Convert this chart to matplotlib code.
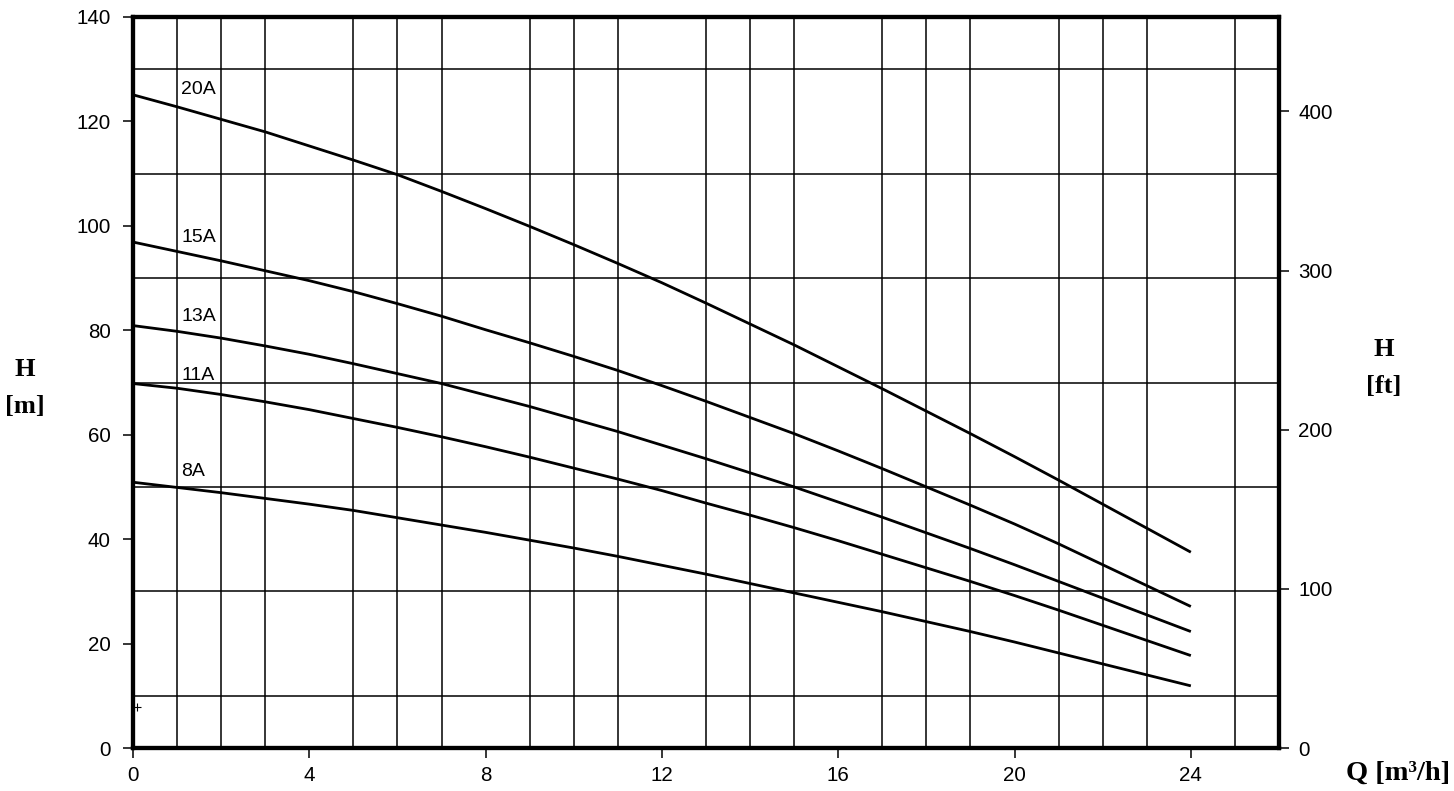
import matplotlib
matplotlib.use("Agg")
import matplotlib.pyplot as plt
import numpy as np

# Flow Q [m3/h]
q = list(range(0, 25))

h_20A = [125.1, 122.8, 120.4, 118.0, 115.3, 112.6, 109.8, 106.6, 103.3, 99.9, 96.4, 92.8, 89.1,
         85.2, 81.2, 77.2, 73.0, 68.8, 64.5, 60.2, 55.8, 51.3, 46.7, 42.1, 37.5]
h_15A = [96.9, 95.1, 93.3, 91.4, 89.5, 87.4, 85.1, 82.7, 80.1, 77.6, 75.0, 72.3, 69.4,
         66.4, 63.3, 60.2, 56.9, 53.5, 50.0, 46.5, 42.9, 39.1, 35.1, 31.1, 27.1]
h_13A = [80.9, 79.8, 78.5, 77.0, 75.4, 73.6, 71.7, 69.8, 67.6, 65.4, 63.0, 60.6, 58.0,
         55.4, 52.7, 50.0, 47.1, 44.2, 41.2, 38.2, 35.1, 31.9, 28.7, 25.5, 22.3]
h_11A = [69.8, 68.9, 67.7, 66.3, 64.8, 63.1, 61.4, 59.6, 57.7, 55.7, 53.6, 51.5, 49.3,
         46.9, 44.6, 42.2, 39.7, 37.1, 34.5, 31.9, 29.2, 26.4, 23.5, 20.6, 17.7]
h_8A = [50.9, 49.9, 48.9, 47.8, 46.7, 45.5, 44.1, 42.7, 41.3, 39.8, 38.3, 36.7, 35.0,
        33.3, 31.5, 29.7, 27.9, 26.1, 24.2, 22.3, 20.3, 18.2, 16.1, 14.0, 11.9]

series_names = ["20A", "15A", "13A", "11A", "8A"]
series_values = [h_20A, h_15A, h_13A, h_11A, h_8A]
label_y = [126.2, 97.7, 82.7, 71.4, 53.0]

x_ticks = [0, 4, 8, 12, 16, 20, 24]
y_ticks = [0, 20, 40, 60, 80, 100, 120, 140]
ft_ticks = [0, 100, 200, 300, 400]

tick_font = "Liberation Sans"
label_font = "Liberation Serif"

fig = plt.figure(figsize=(14.54, 7.91), dpi=100)
ax = fig.add_axes([133 / 1454, 43 / 791, (1279 - 133) / 1454, (748 - 17) / 791])

ax.set_xlim(0, 26)
ax.set_ylim(0, 140)

# grid
ax.set_xticks(np.arange(0, 27, 1), minor=True)
ax.set_yticks(np.arange(0, 141, 10), minor=True)
ax.grid(which="minor", color="black", linewidth=1.1)
ax.tick_params(which="minor", length=0)
ax.set_axisbelow(True)

for name, vals, ly in zip(series_names, series_values, label_y):
    ax.plot(q, vals, color="black", linewidth=2.0, solid_capstyle="butt",
            solid_joinstyle="round", zorder=3)
    ax.text(1.09, ly, name, fontsize=14, family=tick_font, ha="left", va="center", zorder=4)

ax.plot([0.1], [7.9], marker="+", color="black", markersize=6, markeredgewidth=0.8)

ax.set_xticks(x_ticks)
ax.set_yticks(y_ticks)
ax.tick_params(axis="both", which="major", direction="out", length=7, width=1.1,
               labelsize=14.8, color="black")
ax.tick_params(axis="y", pad=9)
ax.tick_params(axis="x", pad=6)
for lab in ax.get_xticklabels() + ax.get_yticklabels():
    lab.set_family(tick_font)

for s in ax.spines.values():
    s.set_linewidth(3)
    s.set_zorder(5)

ax2 = ax.twinx()
ax2.set_ylim(0, 140 / 0.3048)
ax2.set_yticks(ft_ticks)
ax2.tick_params(axis="y", direction="out", length=7, width=1.1, labelsize=14.8, pad=7)
for lab in ax2.get_yticklabels():
    lab.set_family(tick_font)
for s in ax2.spines.values():
    s.set_linewidth(3)

fig.text(25 / 1454, 1 - 370 / 791, "H", fontsize=19, family=label_font, weight="bold",
         ha="center", va="center")
fig.text(25 / 1454, 1 - 407 / 791, "[m]", fontsize=19, family=label_font, weight="bold",
         ha="center", va="center")
fig.text(1384 / 1454, 1 - 350 / 791, "H", fontsize=19, family=label_font, weight="bold",
         ha="center", va="center")
fig.text(1384 / 1454, 1 - 387 / 791, "[ft]", fontsize=19, family=label_font, weight="bold",
         ha="center", va="center")
fig.text(1450 / 1454, 1 - 773 / 791, "Q [m\u00b3/h]", fontsize=20.5, family=label_font,
         weight="bold", ha="right", va="center")

fig.savefig("out.png", dpi=100, facecolor="white")
